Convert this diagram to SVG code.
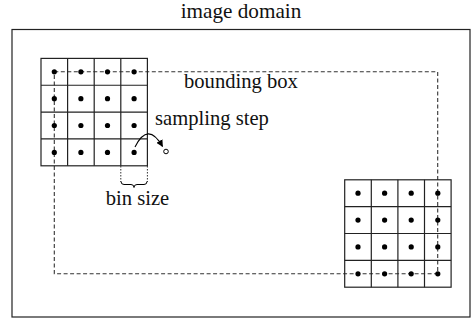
<svg xmlns="http://www.w3.org/2000/svg" xmlns:xlink="http://www.w3.org/1999/xlink" width="471" height="320" viewBox="0 0 471 320">
<style>
.lbl{font-family:'Liberation Serif','DejaVu Serif',serif;font-size:20.6px;fill:#111}
.grid{fill:none;stroke:#222;stroke-width:1.2}
.dot{fill:#000}
.dash{fill:none;stroke:#333;stroke-width:1.1;stroke-dasharray:4,2.5}
.dot-line{fill:none;stroke:#333;stroke-width:1;stroke-dasharray:1.5,1.5}
</style>
<defs>
<g id="cells">
<rect class="grid" x="0" y="0" width="106.4" height="107.4"/>
<path class="grid" d="M26.6,0V107.4M53.2,0V107.4M79.8,0V107.4M0,26.85H106.4M0,53.7H106.4M0,80.55H106.4"/>
<g class="dot">
<circle cx="13.3" cy="13.4" r="2.6"/><circle cx="39.9" cy="13.4" r="2.6"/><circle cx="66.5" cy="13.4" r="2.6"/><circle cx="93.1" cy="13.4" r="2.6"/>
<circle cx="13.3" cy="40.3" r="2.6"/><circle cx="39.9" cy="40.3" r="2.6"/><circle cx="66.5" cy="40.3" r="2.6"/><circle cx="93.1" cy="40.3" r="2.6"/>
<circle cx="13.3" cy="67.1" r="2.6"/><circle cx="39.9" cy="67.1" r="2.6"/><circle cx="66.5" cy="67.1" r="2.6"/><circle cx="93.1" cy="67.1" r="2.6"/>
<circle cx="13.3" cy="94" r="2.6"/><circle cx="39.9" cy="94" r="2.6"/><circle cx="66.5" cy="94" r="2.6"/><circle cx="93.1" cy="94" r="2.6"/>
</g>
</g>
<marker id="arr" viewBox="0 0 10 10" refX="9" refY="5" markerWidth="7" markerHeight="7" orient="auto" markerUnits="userSpaceOnUse">
<path d="M0,0L10,5L0,10z" fill="#000"/>
</marker>
</defs>
<g id="image-domain">
<rect x="12" y="29.5" width="458" height="287.5" fill="none" stroke="#222" stroke-width="1.2"/>
<text class="lbl" x="241" y="18" text-anchor="middle" style="font-size:21.2px">image domain</text>
</g>
<g id="bounding-box">
<rect class="dash" x="54.3" y="71.8" width="383.4" height="202"/>
<text class="lbl" x="184" y="88">bounding box</text>
</g>
<g id="grid-top-left">
<use xlink:href="#cells" x="41" y="58.4"/>
</g>
<g id="grid-bottom-right">
<use xlink:href="#cells" x="344.7" y="179.8"/>
</g>
<g id="connectors">
<path d="M135,147 Q148,121 162.5,146.5" fill="none" stroke="#000" stroke-width="1.1" marker-end="url(#arr)"/>
<circle cx="166" cy="151.5" r="2.3" fill="#fff" stroke="#000" stroke-width="1"/>
<path class="dot-line" d="M120.8,166V182M147.4,166V182"/>
<path d="M121,181.5q0,3 3,3h7q3,0 3,3q0,-3 3,-3h7q3,0 3,-3" fill="none" stroke="#000" stroke-width="1"/>
</g>
<g id="labels">
<text class="lbl" x="155" y="125">sampling step</text>
<text class="lbl" x="137.5" y="205" text-anchor="middle">bin size</text>
</g>
</svg>
